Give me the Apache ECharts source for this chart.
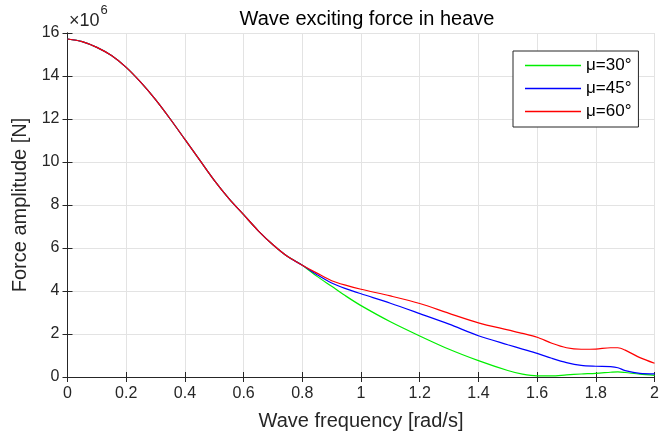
<!DOCTYPE html>
<html>
<head>
<meta charset="utf-8">
<script src="https://cdn.jsdelivr.net/npm/echarts@6/dist/echarts.min.js"></script>
<style>html,body{margin:0;padding:0;background:#fff;}#c{width:662px;height:439px;}</style>
</head>
<body>
<div id="c"></div>
<script>
// Shared part (all headings coincide)
const xCommon = [0, 0.05, 0.1, 0.15, 0.2, 0.25, 0.3, 0.35, 0.4, 0.45, 0.5, 0.55, 0.6, 0.65, 0.7, 0.75, 0.8];
const yCommon = [15.72, 15.6, 15.33, 14.95, 14.4, 13.7, 12.9, 12.0, 11.05, 10.1, 9.15, 8.3, 7.55, 6.8, 6.15, 5.6, 5.2];
// Divergent part
const xTail = [0.85, 0.9, 0.95, 1.0, 1.1, 1.2, 1.3, 1.4, 1.5, 1.55, 1.6, 1.65, 1.7, 1.75, 1.8, 1.85, 1.875, 1.9, 1.95, 2.0];
const y30 = [4.68, 4.22, 3.75, 3.32, 2.57, 1.91, 1.29, 0.76, 0.30, 0.13, 0.05, 0.05, 0.10, 0.14, 0.17, 0.22, 0.24, 0.21, 0.13, 0.08];
const y45 = [4.76, 4.37, 4.1, 3.87, 3.43, 2.95, 2.46, 1.92, 1.50, 1.30, 1.10, 0.87, 0.67, 0.54, 0.50, 0.48, 0.43, 0.30, 0.17, 0.15];
const y60 = [4.83, 4.48, 4.26, 4.08, 3.77, 3.42, 2.96, 2.52, 2.19, 2.03, 1.85, 1.57, 1.36, 1.29, 1.30, 1.36, 1.36, 1.25, 0.90, 0.64];
const seriesNames = ['μ=30°', 'μ=45°', 'μ=60°'];
const seriesColors = ['#00ee00', '#0000ff', '#ff0000'];
const xTicks = [0, 0.2, 0.4, 0.6, 0.8, 1, 1.2, 1.4, 1.6, 1.8, 2];

function build(tail) {
  const pts = xCommon.map((x, i) => [x, yCommon[i]]);
  xTail.forEach((x, i) => pts.push([x, tail[i]]));
  return pts;
}
const tails = [y30, y45, y60];

const txt = '#262626';
const font = 'Liberation Sans, Arial, Helvetica, sans-serif';
const chart = echarts.init(document.getElementById('c'));
chart.setOption({
  animation: false,
  backgroundColor: '#fff',
  title: {
    text: 'Wave exciting force in heave',
    left: 362, top: 4, textAlign: 'center',
    textStyle: {fontFamily: font, fontSize: 20, fontWeight: 'normal', color: '#000'}
  },
  graphic: [{
    type: 'text', left: 69, top: 4,
    style: {
      text: '{a|×10}{b|6}',
      rich: {
        a: {fontFamily: font, fontSize: 18, fill: txt, verticalAlign: 'bottom', lineHeight: 26},
        b: {fontFamily: font, fontSize: 13, fill: txt, verticalAlign: 'top', lineHeight: 26, padding: [0,0,13,1]}
      }
    }
  }],
  legend: {
    orient: 'vertical',
    left: 513, top: 51,
    data: seriesNames,
    icon: 'rect',
    backgroundColor: '#fff',
    borderColor: '#262626', borderWidth: 1, borderRadius: 0,
    padding: [3, 7, 4, 12],
    itemWidth: 56, itemHeight: 1.3, itemGap: 0,
    textStyle: {fontFamily: font, fontSize: 17, color: '#000', lineHeight: 23}
  },
  grid: {left: 67.5, right: 6.5, top: 33, bottom: 62, containLabel: false},
  xAxis: [{
    type: 'value', min: 0, max: 2, interval: 0.2,
    name: 'Wave frequency [rad/s]', nameLocation: 'middle', nameGap: 34,
    nameTextStyle: {fontFamily: font, fontSize: 20, color: txt},
    axisLine: {show: true, lineStyle: {color: txt, width: 1}},
    axisTick: {show: true, inside: true, length: 5, lineStyle: {color: txt}},
    axisLabel: {fontFamily: font, fontSize: 16, color: txt, margin: 9,
      customValues: xTicks, formatter: v => String(+v.toFixed(1))},
    splitLine: {show: true, lineStyle: {color: '#e3e3e3', width: 1}}
  }, {
    type: 'value', min: 0, max: 2, interval: 0.2, position: 'top',
    axisLine: {show: true, lineStyle: {color: txt}},
    axisTick: {show: true, inside: true, length: 5, lineStyle: {color: txt}},
    axisLabel: {show: false}, splitLine: {show: false}
  }],
  yAxis: [{
    type: 'value', min: 0, max: 16, interval: 2,
    name: 'Force amplitude [N]', nameLocation: 'middle', nameGap: 32, nameRotate: 90,
    nameTextStyle: {fontFamily: font, fontSize: 20, color: txt},
    axisLine: {show: true, lineStyle: {color: txt, width: 1}},
    axisTick: {show: true, inside: true, length: 5, lineStyle: {color: txt}},
    axisLabel: {fontFamily: font, fontSize: 16, color: txt, margin: 8},
    splitLine: {show: true, lineStyle: {color: '#e3e3e3', width: 1}}
  }, {
    type: 'value', min: 0, max: 16, interval: 2, position: 'right',
    axisLine: {show: true, lineStyle: {color: txt}},
    axisTick: {show: true, inside: true, length: 5, lineStyle: {color: txt}},
    axisLabel: {show: false}, splitLine: {show: false}
  }],
  series: seriesNames.map((n, i) => ({
    name: n, type: 'line', data: build(tails[i]),
    xAxisIndex: 0, yAxisIndex: 0,
    smooth: 0.3, symbol: 'none', showSymbol: false,
    lineStyle: {color: seriesColors[i], width: 1.2},
    itemStyle: {color: seriesColors[i]}, z: 2 + i
  }))
});
</script>
</body>
</html>
